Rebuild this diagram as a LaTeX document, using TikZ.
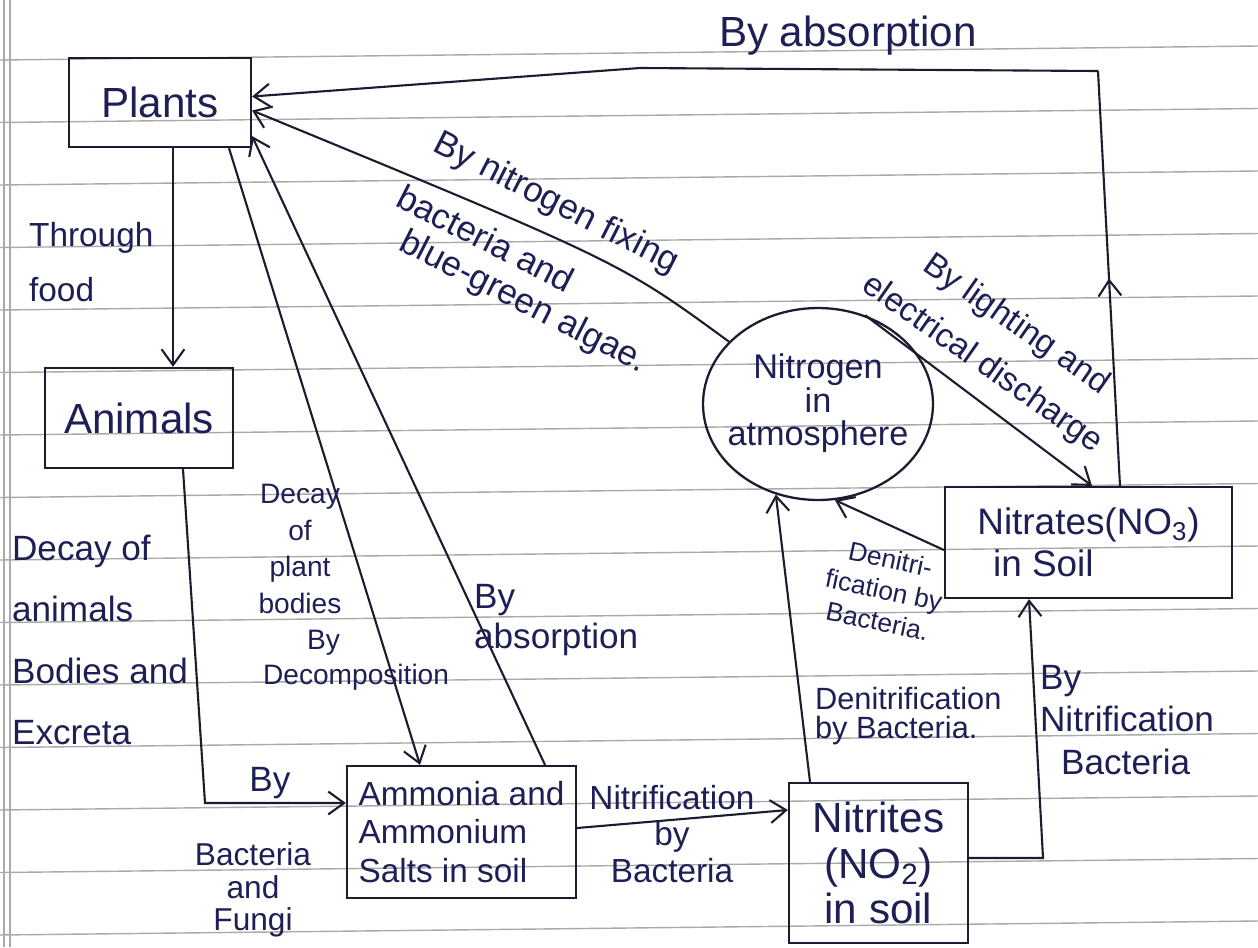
\documentclass[tikz,border=0pt]{standalone}
\usepackage{fontspec}
\setmainfont{Liberation Sans}
\usetikzlibrary{arrows.meta,shapes.geometric,calc,decorations.markings}
\definecolor{ink}{RGB}{28,28,48}
\definecolor{pen}{RGB}{30,32,85}
\definecolor{rulec}{RGB}{170,170,170}
\newcommand\fs[2]{\fontsize{#1}{#2}\selectfont}
\begin{document}
\begin{tikzpicture}[x=0.02cm,y=-0.02cm,
  box/.style={draw=ink, line width=1.3pt, rectangle, inner sep=0pt, text=pen},
  conn/.style={draw=ink, line width=1.2pt, -{Straight Barb[length=9pt,width=13pt]}},
  plainline/.style={draw=ink, line width=1.2pt},
  lab/.style={text=pen, inner sep=1pt},
  ruled/.style={draw=rulec, line width=0.8pt}]
\fill[white] (0,0) rectangle (1258,947);
\useasboundingbox (0,0) rectangle (1258,947);
% ruled paper
\foreach \yy in {60,122.5,...,940} \draw[ruled] (0,\yy) -- (1258,\yy-14);
\draw[ruled] (4,0) -- (4,947);
\draw[ruled] (10,0) -- (10,947);

% boxes
\node[box, minimum width=3.64cm, minimum height=1.78cm, font=\fs{24}{28}] (plants) at (160,102.5) {Plants};
\node[box, minimum width=3.76cm, minimum height=2.0cm, font=\fs{24}{28}] (animals) at (139,418) {Animals};
\node[box, minimum width=4.58cm, minimum height=2.64cm, align=left, font=\fs{19}{22}] (ammonia) at (461.5,832) {Ammonia and\\Ammonium\\Salts in soil};
\node[box, minimum width=3.58cm, minimum height=3.2cm, align=center, font=\fs{24}{26}] (nitrites) at (878.5,863) {Nitrites\\(NO\textsubscript{2})\\in soil};
\node[box, minimum width=5.74cm, minimum height=2.22cm, align=left, font=\fs{21}{24}] (nitrates) at (1088.5,542.5) {Nitrates(NO\textsubscript{3})\\\hspace*{9pt}in Soil};
\node[ellipse, draw=ink, line width=1.3pt, text=pen, minimum width=4.6cm, minimum height=3.84cm, inner xsep=-8pt, inner ysep=0pt, font=\fs{19.5}{16}] (atm) at (818,404) {\raisebox{-6pt}{\begin{tabular}{@{}c@{}}Nitrogen\\in\\atmosphere\end{tabular}}};

% helper coordinates
\coordinate (vb) at (1120,0);
\coordinate (absTop) at (1098,71);
\coordinate (absMid) at (640,68);
\coordinate (lx) at (1092,0);
\coordinate (pa) at (173,0);
\coordinate (da) at (229,0);
\coordinate (db) at (420,0);
\coordinate (ab) at (545,0);
\coordinate (an) at (183,0);
\coordinate (ac) at (205,803);
\coordinate (am1) at (0,828);
\coordinate (am2) at (0,810);
\coordinate (nd) at (810,0);
\coordinate (nw) at (0,550);
\coordinate (ne) at (0,858);
\coordinate (nc) at (1043,858);
\coordinate (ns) at (1029,0);

% connectors
\draw[plainline, postaction={decorate}, decoration={markings, mark=at position 0.5 with {\arrow{Straight Barb[length=9pt,width=13pt]}}}] (nitrates.north -| vb) -- (absTop);
\draw[conn] (absTop) -- (absMid) -- ($(plants.east)+(0,-6)$);
\draw[conn] (atm.145) .. controls (620,262) .. ($(plants.east)+(0,8)$);
\draw[conn] (atm.62) -- (nitrates.north -| lx);
\draw[conn] (plants.south -| pa) -- (animals.north -| pa);
\draw[conn] (plants.south -| da) -- (ammonia.north -| db);
\draw[conn] (ammonia.north -| ab) -- ($(plants.south east)+(0,-12)$);
\draw[conn] (animals.south -| an) -- (ac) -- (ammonia.west |- ac);
\draw[conn] (ammonia.east |- am1) -- (nitrites.west |- am2);
\draw[conn] (nitrites.north -| nd) -- (atm.245);
\draw[conn] (nitrates.west |- nw) -- (atm.280);
\draw[conn] (nitrites.east |- ne) -- (nc) -- (nitrates.south -| ns);

% labels
\node[lab, font=\fs{24}{28}] (lAbsTop) at (848,36) {By absorption};
\node[lab, anchor=west, align=left, font=\fs{19}{31}] (lFood) at (27,262) {Through\\food};
\node[lab, anchor=west, align=left, font=\fs{20}{35}] (lDecayA) at (10,640) {Decay of\\animals\\Bodies and\\Excreta};
\node[lab, font=\fs{20}{24}] (lBy1) at (270,783) {By};
\node[lab, align=center, font=\fs{18}{18.5}] (lBF) at (253,890) {Bacteria\\and\\Fungi};
\node[lab, align=center, font=\fs{16}{21}] (lDecayP) at (300,549) {Decay\\of\\plant\\bodies};
\node[lab, anchor=west, align=left, font=\fs{16}{20}] (lDecomp) at (261,660) {\hspace*{25pt}By\\Decomposition};
\node[lab, anchor=west, align=left, font=\fs{20}{23}] (lAbsLow) at (472,620) {By\\absorption};
\node[lab, rotate=-27, font=\fs{20}{24}] (lFix1) at (556,204) {By nitrogen fixing};
\node[lab, rotate=-27, font=\fs{20}{24}] (lFix2) at (486,238) {bacteria and};
\node[lab, rotate=-27, font=\fs{20}{24}] (lFix3) at (523,303) {blue-green algae.};
\node[lab, rotate=-35, font=\fs{19}{24}] (lLight1) at (1016,325) {By lighting and};
\node[lab, rotate=-35, font=\fs{19}{24}] (lLight2) at (982,364) {electrical discharge};
\node[lab, rotate=-12, align=center, font=\fs{15}{18}] (lDen1) at (884,590) {Denitri-\\fication by\\Bacteria.};
\node[lab, anchor=west, align=left, font=\fs{17.5}{16.5}] (lDen2) at (813,716) {Denitrification\\by Bacteria.};
\node[lab, anchor=west, align=left, font=\fs{20}{24}] (lNB) at (1038,720) {By\\Nitrification\\\hspace*{12pt}Bacteria};
\node[lab, align=center, font=\fs{19}{21}] (lNitrif) at (672,834) {Nitrification\\by\\Bacteria};
\end{tikzpicture}
\end{document}
